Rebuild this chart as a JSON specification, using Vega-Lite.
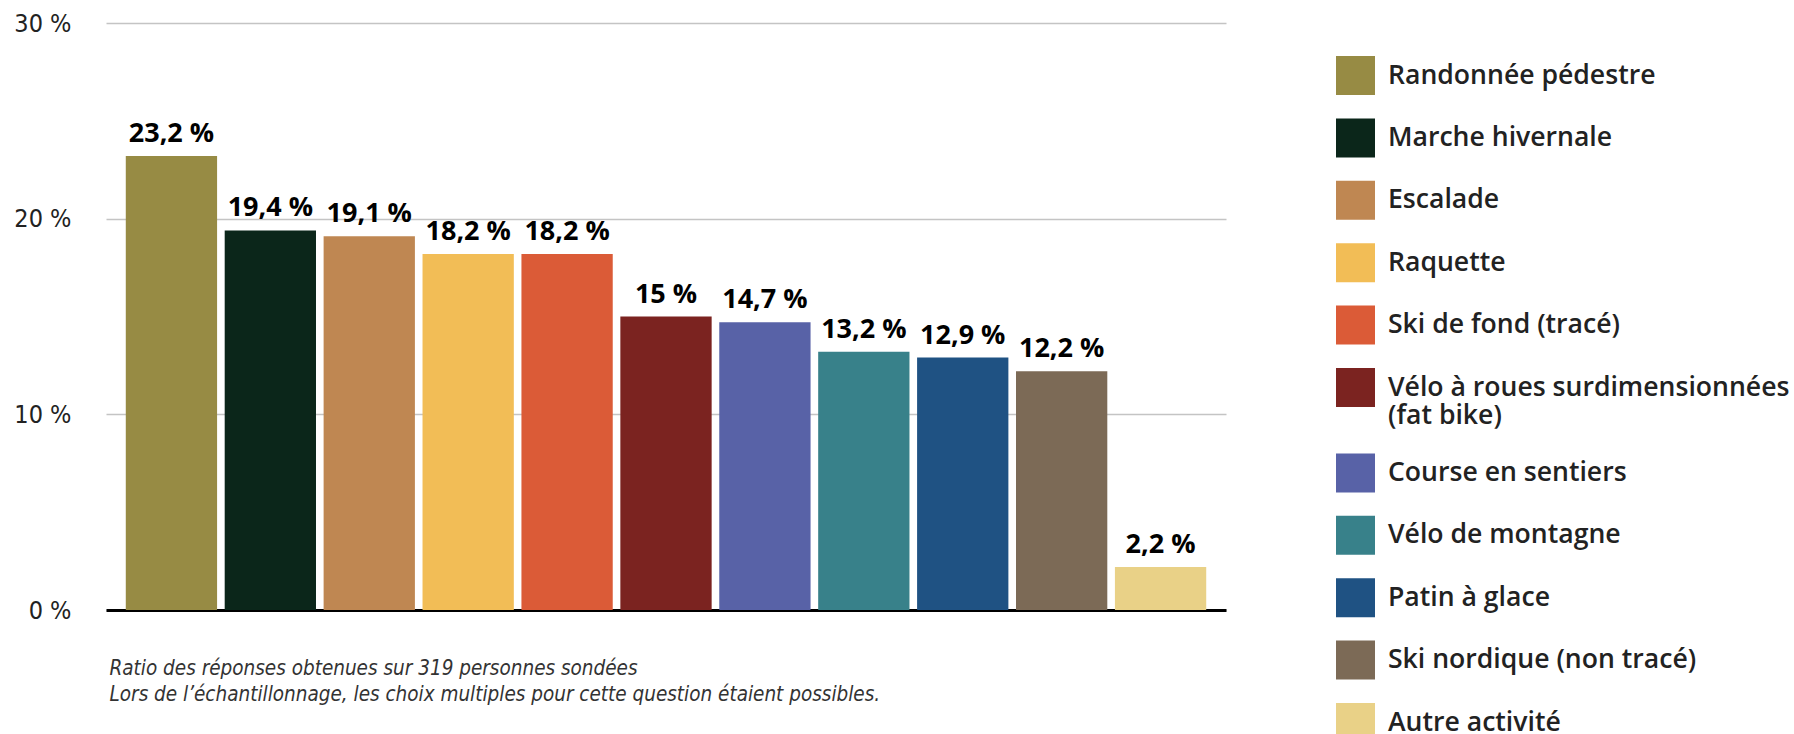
{
  "$schema": "https://vega.github.io/schema/vega-lite/v6.json",
  "autosize": "none",
  "width": 1120,
  "height": 587,
  "padding": {"left": 106, "top": 23, "right": 568, "bottom": 124},
  "background": "white",
  "data": {
    "values": [
      {"activite": "Randonnée pédestre", "pct": 23.2},
      {"activite": "Marche hivernale", "pct": 19.4},
      {"activite": "Escalade", "pct": 19.1},
      {"activite": "Raquette", "pct": 18.2},
      {"activite": "Ski de fond (tracé)", "pct": 18.2},
      {"activite": "Vélo à roues surdimensionnées (fat bike)", "pct": 15},
      {"activite": "Course en sentiers", "pct": 14.7},
      {"activite": "Vélo de montagne", "pct": 13.2},
      {"activite": "Patin à glace", "pct": 12.9},
      {"activite": "Ski nordique (non tracé)", "pct": 12.2},
      {"activite": "Autre activité", "pct": 2.2}
    ]
  },
  "transform": [
    {"calculate": "replace(toString(datum.pct), '.', ',') + ' %'", "as": "label"}
  ],
  "encoding": {
    "x": {
      "field": "activite",
      "type": "nominal",
      "sort": null,
      "scale": {"paddingInner": 0.077, "paddingOuter": 0.2},
      "axis": {
        "title": ["Ratio des réponses obtenues sur 319 personnes sondées", "Lors de l’échantillonnage, les choix multiples pour cette question étaient possibles."],
        "titleAnchor": "start",
        "titleAlign": "left",
        "titleBaseline": "top",
        "titleX": 3,
        "titleY": 48,
        "titleFont": "Liberation Sans Narrow, DejaVu Sans Condensed, Open Sans",
        "titleFontStyle": "italic",
        "titleFontWeight": "normal",
        "titleFontSize": 20.5,
        "titleLineHeight": 26,
        "titleColor": "#333333",
        "labels": false, "ticks": false, "domain": true, "domainColor": "#000000", "domainWidth": 3, "grid": false}
    },
    "y": {
      "field": "pct",
      "type": "quantitative",
      "scale": {"domain": [0, 30]},
      "axis": {
        "title": null,
        "values": [0, 10, 20, 30],
        "labelExpr": "datum.value + ' %'",
        "domain": false,
        "ticks": false,
        "grid": true,
        "gridColor": "#c4c4c4",
        "gridWidth": 1.5,
        "labelPadding": 35,
        "labelFont": "Liberation Sans Narrow, DejaVu Sans Condensed, Open Sans",
        "labelFontSize": 25,
        "labelColor": "#222222"
      }
    }
  },
  "layer": [
    {
      "mark": {"type": "bar"},
      "encoding": {
        "color": {
          "field": "activite",
          "type": "nominal",
          "sort": null,
          "scale": {
            "domain": ["Randonnée pédestre", "Marche hivernale", "Escalade", "Raquette", "Ski de fond (tracé)", "Vélo à roues surdimensionnées (fat bike)", "Course en sentiers", "Vélo de montagne", "Patin à glace", "Ski nordique (non tracé)", "Autre activité"],
            "range": ["#978b44", "#0b261a", "#bf8752", "#f2bd56", "#db5b37", "#7b2320", "#5862a7", "#38818a", "#1f5283", "#7c6a56", "#e9d187"]
          },
          "legend": {
            "title": null,
            "orient": "none",
            "legendX": 1230,
            "legendY": 33,
            "padding": 0,
            "symbolType": "square",
            "symbolSize": 1521,
            "symbolStrokeWidth": 0,
            "symbolOpacity": 1,
            "labelFont": "Open Sans",
            "labelFontWeight": 600,
            "labelFontSize": 26.6,
            "labelColor": "#222222",
            "labelOffset": 13,
            "labelLimit": 600,
            "rowPadding": 23.4,
            "labelExpr": "datum.label == 'Vélo à roues surdimensionnées (fat bike)' ? ['Vélo à roues surdimensionnées', '(fat bike)'] : datum.label"
          }
        }
      }
    },
    {
      "mark": {"type": "text", "baseline": "alphabetic", "dy": -14, "font": "Open Sans", "fontWeight": "bold", "fontSize": 27, "color": "#000000"},
      "encoding": {"text": {"field": "label"}}
    }
  ],
  "config": {"view": {"stroke": null}}
}
